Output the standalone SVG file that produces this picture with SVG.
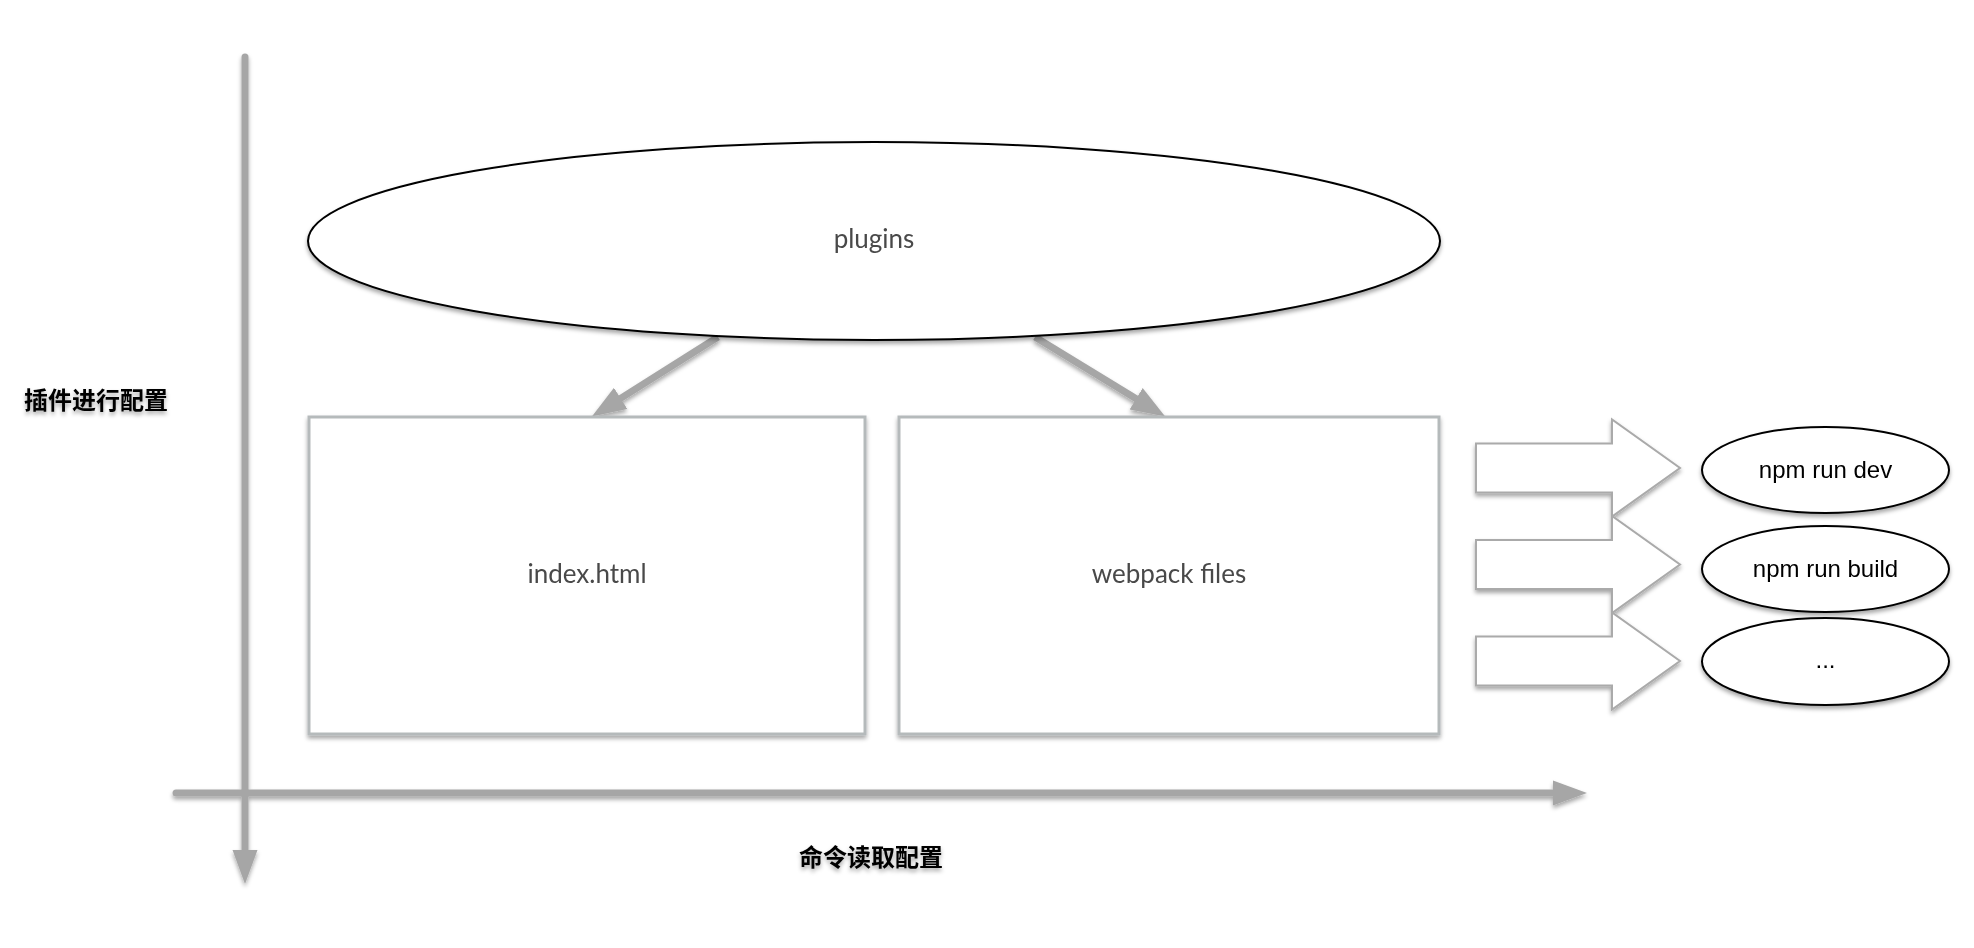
<svg xmlns="http://www.w3.org/2000/svg" width="1974" height="948" viewBox="0 0 1974 948">
  <defs>
    <filter id="shadow" x="-10%" y="-10%" width="120%" height="130%">
      <feDropShadow dx="0" dy="3" stdDeviation="2" flood-color="#000" flood-opacity="0.35"/>
    </filter>
    <marker id="head" markerUnits="userSpaceOnUse" markerWidth="40" markerHeight="30" viewBox="0 -15 40 30" refX="1" refY="0" orient="auto">
      <path d="M0,-12.5 L34,0 L0,12.5 Z" fill="#a6a6a6"/>
    </marker>
    <style>
      .axis { stroke: #a6a6a6; stroke-width: 7; fill: none; marker-end: url(#head); }
      .box { fill: #ffffff; stroke: #b5babb; stroke-width: 3; }
      .oval { fill: #ffffff; stroke: #000000; stroke-width: 2; }
      .hollow { fill: #ffffff; stroke: #aaaaaa; stroke-width: 2; }
      .lbl { font-family: Lato, "Noto Sans", sans-serif; font-size: 26px; fill: #4a4a4a; text-anchor: middle; }
      .cmd { font-family: "Liberation Sans", Arial, sans-serif; font-size: 24px; fill: #000000; text-anchor: middle; }
      .cjk { font-family: "Noto Sans CJK SC", sans-serif; font-size: 24px; font-weight: bold; fill: #000000; }
    </style>
  </defs>
  <rect width="1974" height="948" fill="#ffffff"/>

  <g id="connectors" filter="url(#shadow)">
    <path class="axis" d="M245,57 L245,851" stroke-linecap="round"/>
    <path class="axis" d="M176,793 L1554,793" stroke-linecap="round"/>
    <path class="axis" d="M718,337 L619.8,398.9"/>
    <path class="axis" d="M1035,337 L1137,399.3"/>
  </g>

  <g id="plugins" filter="url(#shadow)">
    <ellipse class="oval" cx="874" cy="241" rx="566" ry="99"/>
    <text class="lbl" x="874" y="248">plugins</text>
  </g>

  <g id="index-html" filter="url(#shadow)">
    <rect class="box" x="309" y="417" width="556" height="317"/>
    <text class="lbl" x="587" y="583">index.html</text>
  </g>

  <g id="webpack-files" filter="url(#shadow)">
    <rect class="box" x="899" y="417" width="540" height="317"/>
    <text class="lbl" x="1169" y="583">webpack files</text>
  </g>

  <g id="flow-arrows" filter="url(#shadow)">
    <polygon class="hollow" points="1476,443.5 1612,443.5 1612,419.5 1680,468 1612,516.5 1612,492.5 1476,492.5"/>
    <polygon class="hollow" points="1476,540 1612,540 1612,516 1680,564.5 1612,613 1612,589 1476,589"/>
    <polygon class="hollow" points="1476,636.5 1612,636.5 1612,612.5 1680,661 1612,709.5 1612,685.5 1476,685.5"/>
  </g>

  <g id="npm-run-dev" filter="url(#shadow)">
    <ellipse class="oval" cx="1825.5" cy="470" rx="123.5" ry="43"/>
    <text class="cmd" x="1825.5" y="478">npm run dev</text>
  </g>

  <g id="npm-run-build" filter="url(#shadow)">
    <ellipse class="oval" cx="1825.5" cy="569" rx="123.5" ry="43"/>
    <text class="cmd" x="1825.5" y="577">npm run build</text>
  </g>

  <g id="more" filter="url(#shadow)">
    <ellipse class="oval" cx="1825.5" cy="661.5" rx="123.5" ry="43.5"/>
    <text class="cmd" x="1825.5" y="668">...</text>
  </g>

  <g id="label-plugin-config" filter="url(#shadow)">
    <text class="cjk" x="24" y="409">插件进行配置</text>
  </g>

  <g id="label-command-config" filter="url(#shadow)">
    <text class="cjk" x="799" y="866">命令读取配置</text>
  </g>
</svg>
